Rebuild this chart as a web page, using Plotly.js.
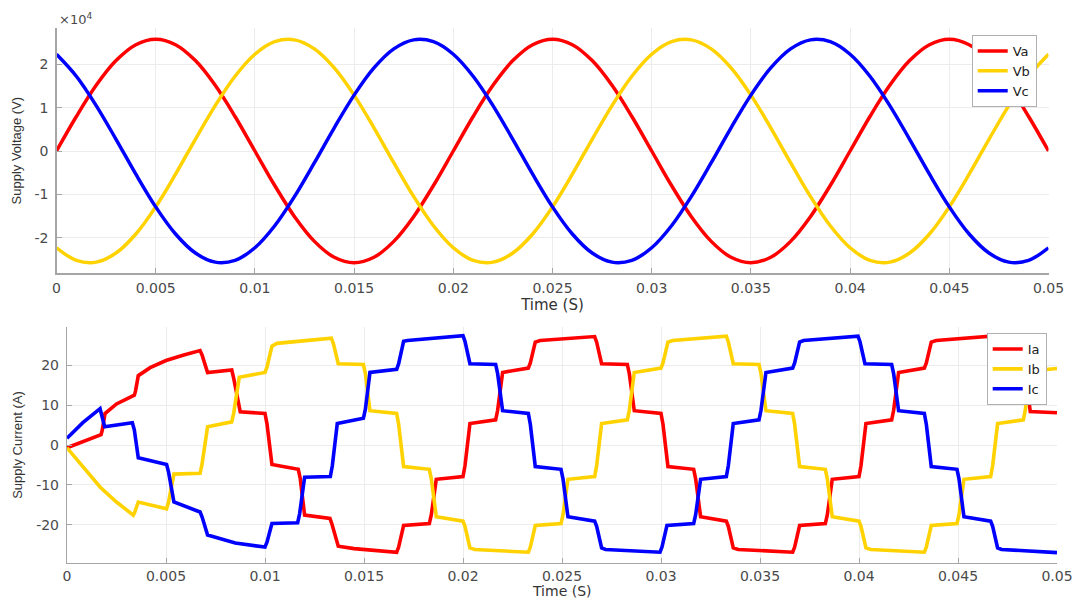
<!DOCTYPE html>
<html><head><meta charset="utf-8">
<script src="https://cdn.plot.ly/plotly-3.0.1.min.js"></script>
<style>html,body{margin:0;padding:0;background:#fff}#chart{width:1074px;height:600px}</style>
</head><body><div id="chart"></div>
<script>
// ---------- Supply voltage (V), sampled every 1 ms ----------
const timeV = [0,0.001,0.002,0.003,0.004,0.005,0.006,0.007,0.008,0.009,
  0.010,0.011,0.012,0.013,0.014,0.015,0.016,0.017,0.018,0.019,
  0.020,0.021,0.022,0.023,0.024,0.025,0.026,0.027,0.028,0.029,
  0.030,0.031,0.032,0.033,0.034,0.035,0.036,0.037,0.038,0.039,
  0.040,0.041,0.042,0.043,0.044,0.045,0.046,0.047,0.048,0.049,0.050];
const Va = [0,7970,15170,20870,24540,25800,24540,20870,15170,7970,
  0,-7970,-15170,-20870,-24540,-25800,-24540,-20870,-15170,-7970,
  0,7970,15170,20870,24540,25800,24540,20870,15170,7970,
  0,-7970,-15170,-20870,-24540,-25800,-24540,-20870,-15170,-7970,
  0,7970,15170,20870,24540,25800,24540,20870,15170,7970,0];
const Vb = [-22340,-25240,-25660,-23570,-19170,-12900,-5360,2700,10490,17260,
  22340,25240,25660,23570,19170,12900,5360,-2700,-10490,-17260,
  -22340,-25240,-25660,-23570,-19170,-12900,-5360,2700,10490,17260,
  22340,25240,25660,23570,19170,12900,5360,-2700,-10490,-17260,
  -22340,-25240,-25660,-23570,-19170,-12900,-5360,2700,10490,17260,22340];
const Vc = [22340,17260,10490,2700,-5360,-12900,-19170,-23570,-25660,-25240,
  -22340,-17260,-10490,-2700,5360,12900,19170,23570,25660,25240,
  22340,17260,10490,2700,-5360,-12900,-19170,-23570,-25660,-25240,
  -22340,-17260,-10490,-2700,5360,12900,19170,23570,25660,25240,
  22340,17260,10490,2700,-5360,-12900,-19170,-23570,-25660,-25240,-22340];

// ---------- Supply current (A), breakpoints ----------
const Ia_t = [0,0.0008,0.00167,0.00172,0.00178,0.00192,0.0025,0.00335,0.0034,0.00346,0.0036,0.0042,0.005,0.0059,0.00672,0.00682,
  0.0071,0.00832,0.00842,0.00875,0.0100,0.0101,0.01035,0.01168,0.01178,0.0120,0.01328,0.01338,0.0137,0.0145,0.01665,0.01675,
  0.0170,0.0183,0.0184,0.01865,0.0200,0.0201,0.02035,0.02165,0.02175,0.0220,0.0233,0.0234,0.02365,0.0239,0.02665,0.02675,
  0.0270,0.0283,0.0284,0.02865,0.0300,0.0301,0.03035,0.03165,0.03175,0.0320,0.0333,0.0334,0.03365,0.0339,0.03665,0.03675,
  0.0370,0.0383,0.0384,0.03865,0.0400,0.0401,0.04035,0.04165,0.04175,0.0420,0.0433,0.0434,0.04365,0.0439,0.04665,0.04675,
  0.0470,0.0483,0.0484,0.04865,0.0500];
const Ia_v = [-0.7,0.9,2.5,2.6,3.7,7.9,10.3,12.4,12.5,13.5,17.4,19.4,21.2,22.6,23.7,22.6,
  18.2,18.8,16.7,8.3,7.9,5.3,-4.9,-6.1,-8.4,-17.6,-18.4,-19.8,-25.4,-26.0,-26.9,-25.6,
  -20.2,-19.7,-17.5,-8.6,-7.9,-5.2,5.4,6.3,8.7,18.2,19.3,20.6,25.8,26.2,27.2,25.8,
  20.4,20.2,17.9,8.6,7.9,5.2,-5.4,-6.1,-8.5,-18.0,-19.1,-20.4,-25.8,-26.2,-26.9,-25.6,
  -20.2,-19.7,-17.5,-8.6,-7.9,-5.2,5.4,6.3,8.7,18.2,19.3,20.6,25.8,26.2,27.3,25.9,
  20.4,20.2,17.8,8.4,8.1];
const Ib_t = [0,0.0008,0.00168,0.0025,0.00335,0.00342,0.0036,0.00503,0.00513,0.0054,0.00672,0.00682,0.0071,0.00832,0.00842,0.0087,0.0100,0.0101,0.01035,0.0106,0.01335,0.01345,
  0.0137,0.01497,0.01507,0.0153,0.01665,0.01675,0.0170,0.0183,0.0184,0.01865,0.0200,0.0201,0.02035,0.0206,0.0233,0.0234,
  0.02365,0.02495,0.02505,0.0253,0.02665,0.02675,0.0270,0.0283,0.0284,0.02865,0.0300,0.0301,0.03035,0.0306,0.0333,0.0334,
  0.03365,0.03495,0.03505,0.0353,0.03665,0.03675,0.0370,0.0383,0.0384,0.03865,0.0400,0.0401,0.04035,0.0406,0.0433,0.0434,
  0.04365,0.04495,0.04505,0.0453,0.04665,0.04675,0.0470,0.0483,0.0484,0.04865,0.0500];
const Ib_v = [-0.7,-5.3,-10.6,-14.3,-17.6,-16.9,-14.3,-16.0,-14.3,-7.3,-7.1,-4.8,4.6,5.8,8.0,17.0,18.2,19.5,24.8,25.5,26.8,25.5,
  20.4,20.2,17.9,8.6,7.9,5.2,-5.4,-6.1,-8.5,-18.0,-19.1,-20.4,-25.8,-26.2,-26.9,-25.6,
  -20.2,-19.7,-17.5,-8.6,-7.9,-5.2,5.4,6.3,8.7,18.2,19.3,20.6,25.8,26.2,27.3,25.9,
  20.4,20.2,17.9,8.6,7.9,5.2,-5.4,-6.1,-8.5,-18.0,-19.1,-20.4,-25.8,-26.2,-26.9,-25.6,
  -20.2,-19.7,-17.5,-8.6,-7.9,-5.2,5.4,6.3,8.8,18.6,19.2];
const Ic_t = [0,0.0008,0.00167,0.0019,0.0033,0.0034,0.0036,0.00503,0.00513,0.0054,0.00672,0.00682,0.0071,0.0085,0.0100,0.0101,
  0.01035,0.01165,0.01175,0.0120,0.0133,0.0134,0.01365,0.01497,0.01507,0.0153,0.01665,0.01675,0.0170,0.0172,0.0200,0.0201,
  0.02035,0.02165,0.02175,0.0220,0.0233,0.0234,0.02365,0.02495,0.02505,0.0253,0.02665,0.02675,0.0270,0.0272,0.02995,0.03005,
  0.0303,0.03165,0.03175,0.0320,0.0333,0.0334,0.03365,0.03495,0.03505,0.0353,0.03665,0.03675,0.0370,0.0372,0.03995,0.04005,
  0.0403,0.04165,0.04175,0.0420,0.0433,0.0434,0.04365,0.04495,0.04505,0.0453,0.04665,0.04675,0.0470,0.0472,0.0500];
const Ic_v = [1.7,5.6,9.1,4.6,5.6,3.8,-3.2,-4.9,-6.8,-14.3,-16.8,-18.0,-22.6,-24.6,-25.6,-24.4,
  -19.7,-19.5,-17.2,-8.1,-7.9,-5.2,5.4,6.7,9.0,18.2,19.0,20.4,26.0,26.2,27.4,26.0,
  20.4,20.2,17.9,8.6,7.9,5.2,-5.4,-6.1,-8.5,-18.0,-19.1,-20.4,-25.8,-26.2,-26.9,-25.6,
  -20.2,-19.7,-17.5,-8.6,-7.9,-5.2,5.4,6.3,8.7,18.2,19.3,20.6,25.8,26.2,27.3,25.9,
  20.4,20.2,17.9,8.6,7.9,5.2,-5.4,-6.1,-8.5,-18.0,-19.1,-20.4,-25.8,-26.2,-27.0];

// ---------- tick labels ----------
const xTickVals = [0,0.005,0.01,0.015,0.02,0.025,0.03,0.035,0.04,0.045,0.05];
const xTickText = ['0','0.005','0.01','0.015','0.02','0.025','0.03','0.035','0.04','0.045','0.05'];
const vTickVals = [-20000,-10000,0,10000,20000];
const vTickText = ['-2','-1','0','1','2'];
const iTickVals = [-20,-10,0,10,20];
const iTickText = ['-20','-10','0','10','20'];

const W = 1074, H = 600;
const RED = '#FF0000', YEL = '#FFD200', BLU = '#0000FF';
const tickFont = {family:'DejaVu Sans, sans-serif', size:14, color:'#4a4a4a'};
const titleFontX = {family:'DejaVu Sans, sans-serif', size:15, color:'#333333'};
const titleFontY = {family:'Liberation Sans, Arial, sans-serif', size:13, color:'#333333'};
const base = {showline:true, linecolor:'#a6a6a6', linewidth:1.2, showgrid:true, gridcolor:'#ececec',
  gridwidth:1, zeroline:false, ticks:'inside', ticklen:5, tickcolor:'#a6a6a6', tickfont:tickFont,
  fixedrange:true};

const traces = [
  {x:timeV, y:Va, name:'Va', type:'scatter', mode:'lines', line:{color:RED, width:3.5, shape:'spline'}, xaxis:'x', yaxis:'y', legend:'legend'},
  {x:timeV, y:Vb, name:'Vb', type:'scatter', mode:'lines', line:{color:YEL, width:3.5, shape:'spline'}, xaxis:'x', yaxis:'y', legend:'legend'},
  {x:timeV, y:Vc, name:'Vc', type:'scatter', mode:'lines', line:{color:BLU, width:3.5, shape:'spline'}, xaxis:'x', yaxis:'y', legend:'legend'},
  {x:Ia_t, y:Ia_v, name:'Ia', type:'scatter', mode:'lines', line:{color:RED, width:3.6}, xaxis:'x2', yaxis:'y2', legend:'legend2'},
  {x:Ib_t, y:Ib_v, name:'Ib', type:'scatter', mode:'lines', line:{color:YEL, width:3.6}, xaxis:'x2', yaxis:'y2', legend:'legend2'},
  {x:Ic_t, y:Ic_v, name:'Ic', type:'scatter', mode:'lines', line:{color:BLU, width:3.6}, xaxis:'x2', yaxis:'y2', legend:'legend2'}
];

const legendBase = {bgcolor:'#ffffff', bordercolor:'#b0b0b0', borderwidth:1,
  font:{family:'DejaVu Sans, sans-serif', size:13, color:'#222'}, itemwidth:30, tracegroupgap:0};

const layout = {
  width:W, height:H, margin:{l:0,r:0,t:0,b:0}, paper_bgcolor:'#fff', plot_bgcolor:'#fff',
  showlegend:true,
  xaxis: Object.assign({}, base, {domain:[56.5/W,1048.5/W], anchor:'y', range:[0,0.05],
    tickvals:xTickVals, ticktext:xTickText, ticklabelstandoff:2,
    title:{text:'Time (S)', font:titleFontX, standoff:2}}),
  yaxis: Object.assign({}, base, {domain:[1-273.3/H,1-28/H], anchor:'x', range:[-28240,28400],
    tickvals:vTickVals, ticktext:vTickText, ticklabelstandoff:4,
    title:{text:'Supply Voltage (V)', font:titleFontY, standoff:10}}),
  xaxis2: Object.assign({}, base, {domain:[67/W,1057/W], anchor:'y2', range:[0,0.05],
    tickvals:xTickVals, ticktext:xTickText, ticklabelstandoff:0}),
  yaxis2: Object.assign({}, base, {domain:[1-563/H,1-327/H], anchor:'x2', range:[-29.6,29.6],
    tickvals:iTickVals, ticktext:iTickText, ticklabelstandoff:4,
    title:{text:'Supply Current (A)', font:titleFontY, standoff:10}}),
  legend: Object.assign({}, legendBase, {x:1036.7/W, xanchor:'right', y:1-35/H, yanchor:'top'}),
  legend2: Object.assign({}, legendBase, {x:1046.7/W, xanchor:'right', y:1-333/H, yanchor:'top'}),
  annotations: [
    {text:'×10<sup>4</sup>', xref:'paper', yref:'paper', x:57/W, y:1-19/H, xanchor:'left', yanchor:'middle',
     showarrow:false, font:{family:'DejaVu Sans, sans-serif', size:13, color:'#4a4a4a'}},
    {text:'Time (S)', xref:'paper', yref:'paper', x:562/W, y:0, xanchor:'center', yanchor:'bottom',
     borderpad:0, showarrow:false, font:{family:'DejaVu Sans, sans-serif', size:14, color:'#333333'}}
  ]
};

Plotly.newPlot('chart', traces, layout, {displayModeBar:false, staticPlot:true});
</script>
</body></html>
